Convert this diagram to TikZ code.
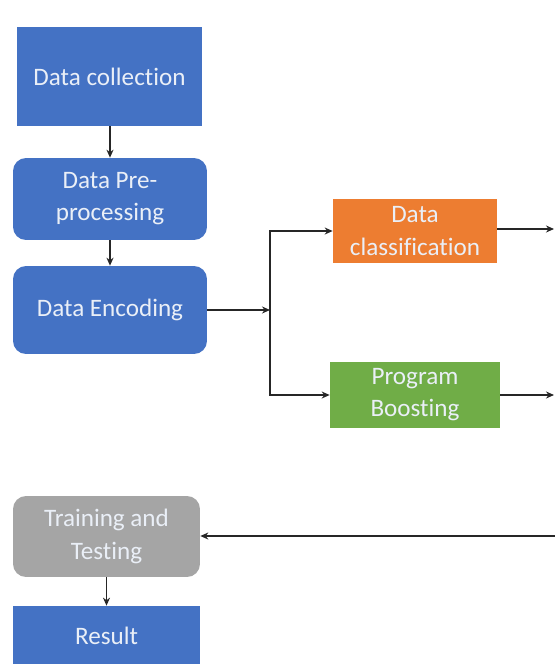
\documentclass[tikz,border=0pt]{standalone}
\usepackage{fontspec}
\setmainfont[Ligatures=NoCommon]{Carlito}
\usetikzlibrary{arrows.meta,positioning}
\definecolor{flowblue}{RGB}{68,114,196}
\definecolor{floworange}{RGB}{237,125,49}
\definecolor{flowgreen}{RGB}{112,173,71}
\definecolor{flowgrey}{RGB}{165,165,165}
\definecolor{flowtext}{RGB}{234,239,247}
\tikzset{
  fbox/.style ={rectangle, draw=none, fill=flowblue, text=flowtext, align=center,
                inner sep=0pt, font=\fontsize{14.3}{18.3}\selectfont},
  fround/.style={fbox, rounded corners=0.26cm},
  fclass/.style={fbox, fill=floworange},
  fboost/.style={fbox, fill=flowgreen},
  ftrain/.style={fround, fill=flowgrey},
  flink/.style ={-{Stealth[length=1.6mm,width=1.4mm]}, line width=0.8pt, black!85},
}
\begin{document}
\begin{tikzpicture}[x=0.02cm,y=-0.02cm]
  \useasboundingbox[fill=white] (0,0) rectangle (555,664);
  % left column
  \node[fbox, minimum width=3.7cm, minimum height=1.98cm] (collect) at (109.5,76.5) {Data collection};
  \node[fround, minimum width=3.88cm, minimum height=1.64cm] (prep) at (110,199) {Data Pre-\\processing};
  \node[fround, minimum width=3.88cm, minimum height=1.76cm] (encode) at (110,310) {Data Encoding};
  % middle column
  \node[fclass, minimum width=3.28cm, minimum height=1.28cm] (classify) at (415,231) {Data\\classification};
  \node[fboost, minimum width=3.4cm, minimum height=1.32cm] (boost) at (415,395) {Program\\Boosting};
  % bottom
  \node[ftrain, minimum width=3.74cm, minimum height=1.62cm] (train) at (106.5,536.5) {Training and\\Testing};
  \node[fbox, minimum width=3.74cm, minimum height=1.2cm] (result) at (106.5,636) {Result};
  % free ends at the right edge
  \coordinate (split) at (270,310);
  \coordinate (outA) at (554,229);
  \coordinate (outB) at (554,395);
  \coordinate (inT) at (555,536);
  % connectors
  \draw[flink] (collect.south -| prep.north) -- (prep.north);
  \draw[flink] (prep) -- (encode);
  \draw[flink] (encode.east) -- (split);
  \draw[flink] (split) |- (classify.west);
  \draw[flink] (split) |- (boost.west);
  \draw[flink] (classify.east |- outA) -- (outA);
  \draw[flink] (boost.east) -- (outB);
  \draw[flink] (inT) -- (train.east |- inT);
  \draw[flink] (train.south -| result.north) -- (result.north);
\end{tikzpicture}
\end{document}
